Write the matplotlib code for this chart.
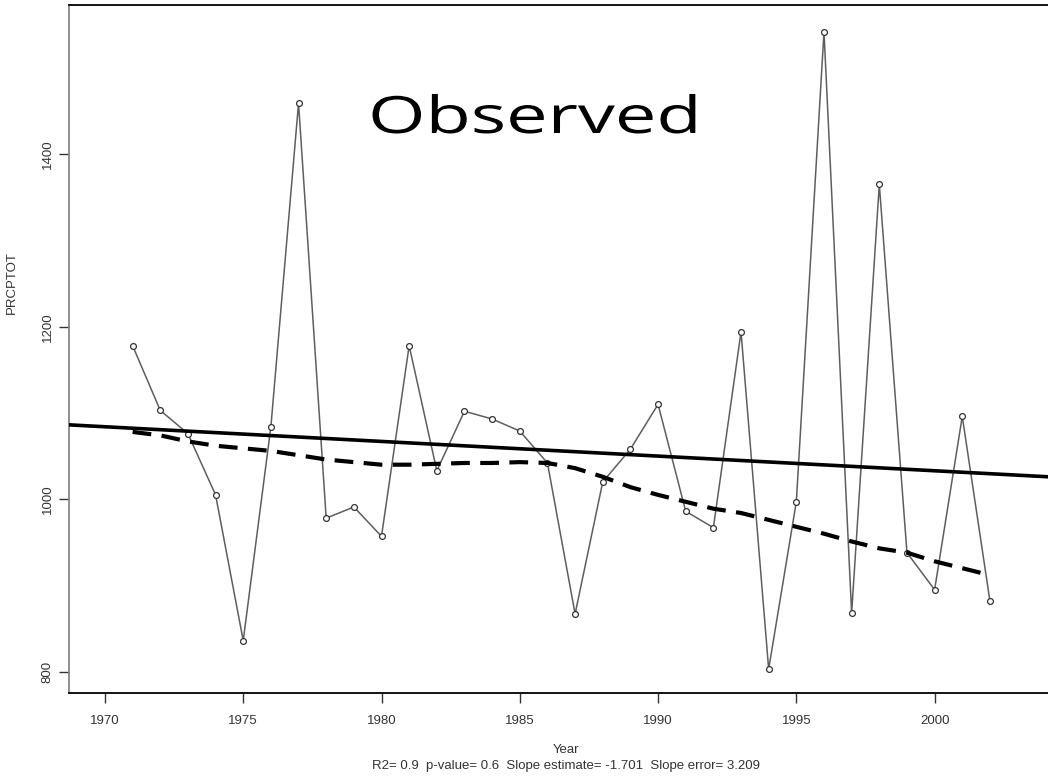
import numpy as np
import matplotlib
matplotlib.use("Agg")
import matplotlib.pyplot as plt
from matplotlib.patheffects import AbstractPathEffect
from matplotlib.transforms import Affine2D

# yearly PRCPTOT
years = list(range(1971, 2003))
prcptot = [1178, 1103, 1076, 1005, 836, 1084, 1459, 978, 991, 957,
           1178, 1033, 1102, 1093, 1079, 1042, 867, 1020, 1058, 1110,
           986, 967, 1194, 803, 997, 1542, 868, 1365, 938, 895,
           1096, 882]

# smoothed (lowess-like) curve, dashed
smooth = [1078, 1074, 1067, 1062, 1059, 1056, 1051, 1046, 1043, 1040,
          1040, 1041, 1042, 1042, 1043, 1042, 1036, 1026, 1014, 1005,
          997, 989, 984, 976, 968, 960, 951, 943, 938, 928,
          920, 912]

# linear trend
trend_slope = -1.701
trend_at_1970 = 1084

xticks = [1970, 1975, 1980, 1985, 1990, 1995, 2000]
yticks = [800, 1000, 1200, 1400]
subtitle = "R2= 0.9  p-value= 0.6  Slope estimate= -1.701  Slope error= 3.209"


class HStretch(AbstractPathEffect):
    # widen the glyphs horizontally (the title in the picture is wide)
    def __init__(self, sx):
        super().__init__()
        self.sx = sx

    def draw_path(self, renderer, gc, tpath, affine, rgbFace=None):
        renderer.draw_path(gc, tpath, Affine2D().scale(self.sx, 1) + affine, rgbFace)


plt.rcParams['font.family'] = ['Liberation Sans', 'DejaVu Sans']

fig = plt.figure(figsize=(10.48, 7.80), dpi=100)
ax = fig.add_axes([69 / 1048, 1 - 693 / 780, 1 - 69 / 1048, (693 - 5) / 780])

ax.plot(years, prcptot, color="#5e5e5e", lw=1.1, zorder=2)
ax.plot(years, prcptot, ls="none", marker="o", ms=4.2, mfc="white",
        mec="#333333", mew=0.9, zorder=3)
ax.plot(years, smooth, color="black", lw=3, ls=(0, (4.5, 2.5)), zorder=4)
ax.axline((1970, trend_at_1970), slope=trend_slope, color="black", lw=2.6, zorder=5)

ax.set_xlim(1968.7, 2004.1)
ax.set_ylim(775.3, 1573)
ax.set_xticks(xticks)
ax.set_yticks(yticks)
ax.set_yticklabels([str(v) for v in yticks], rotation=90, va="center")
ax.tick_params(direction="out", length=7, width=1, color="#333333",
               labelsize=9.5, labelcolor="#333333")
ax.tick_params(axis="x", pad=9)
ax.tick_params(axis="y", pad=4)

for side in ["top", "bottom"]:
    ax.spines[side].set_color("black")
    ax.spines[side].set_linewidth(1.3)
ax.spines["left"].set_color("#888888")
ax.spines["left"].set_linewidth(1.3)
ax.spines["right"].set_visible(False)

ax.set_ylabel("PRCPTOT", fontsize=9.5, color="#333333")
ax.yaxis.set_label_coords(-0.052, 0.597)

ax.text((368 - 69) / 979, (693 - 133) / 688, "Observed", transform=ax.transAxes,
        ha="left", va="baseline", fontsize=37, family=["Open Sans", "DejaVu Sans"],
        color="black", path_effects=[HStretch(1.44)])

fig.text(566 / 1048, 1 - 750 / 780, "Year", ha="center", va="center",
         fontsize=9.5, color="#333333")
fig.text(566 / 1048, 1 - 766 / 780, subtitle, ha="center", va="center",
         fontsize=9.5, color="#333333")

fig.savefig("out.png", dpi=100)
